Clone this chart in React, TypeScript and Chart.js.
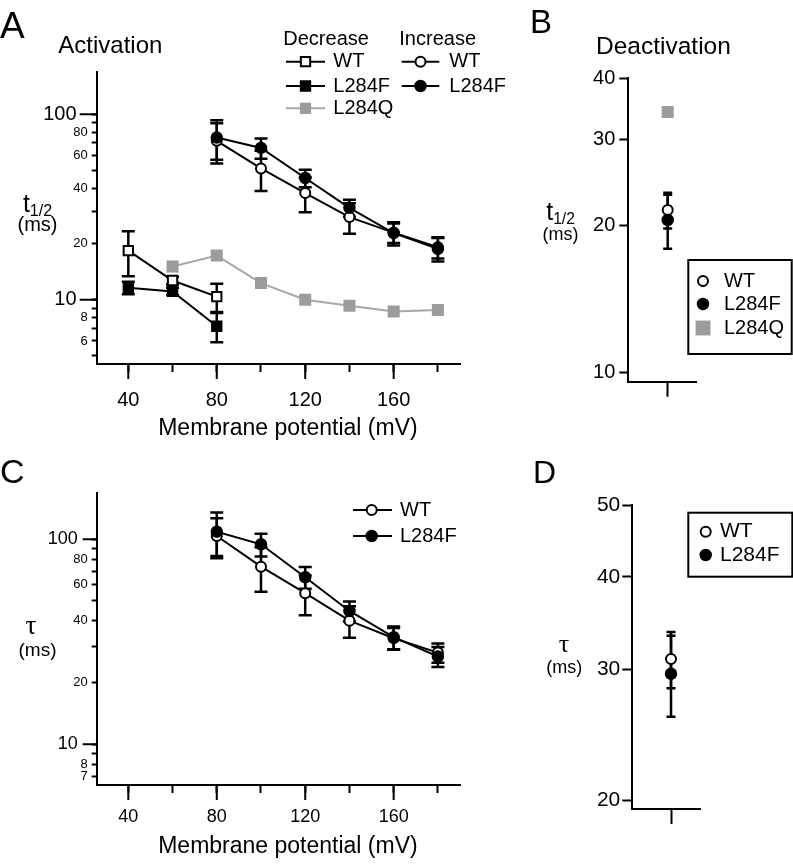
import React, { useEffect, useRef } from 'react';
import { Chart, registerables } from 'chart.js';
import type { ChartConfiguration, Plugin } from 'chart.js';
import { drawPoint } from 'chart.js/helpers';

Chart.register(...registerables);

const FONT = '"Liberation Sans", Arial, Helvetica, sans-serif';
const SERIF = '"Liberation Serif", "DejaVu Serif", serif';
const GRAY = '#9c9c9c';

Chart.defaults.font.family = FONT;
Chart.defaults.color = '#000';

// Panel A - activation t1/2 (ms) vs membrane potential (mV)
const decVolts = [40, 60, 80];
const decWT = [18.4, 12.7, 10.4];
const decWTErr = [5.0, 0.6, 1.8];
const decL284F = [11.6, 11.1, 7.2];
const decL284FErr = [0.9, 0.5, 1.3];
const decQVolts = [60, 80, 100, 120, 140, 160, 180];
const decL284Q = [15.1, 17.3, 12.3, 10.0, 9.3, 8.65, 8.8];
const incVolts = [80, 100, 120, 140, 160, 180];
const incWT = [71.8, 51, 37.6, 27.9, 23.0, 19.2];
const incWTErr = [17.5, 12.5, 8, 5.2, 2.8, 2.5];
const incL284F = [74.8, 65.8, 45.3, 31.3, 22.9, 18.8];
const incL284FErr = [18, 8.2, 4.9, 3.3, 3.3, 2.7];

const voltTicks = [40, 60, 80, 100, 120, 140, 160, 180];
const voltLabels = [40, 80, 120, 160];
const actTicks = [5, 6, 7, 8, 9, 10, 20, 30, 40, 50, 60, 70, 80, 90, 100];
const actLabels = [6, 8, 10, 20, 40, 60, 80, 100];
const decades = [10, 100];

// Panel B - deactivation t1/2
const groupX = [0];
const deactWT = [21.5];
const deactWTErr = [1.8];
const deactL284F = [20.5];
const deactL284FErr = [2.6];
const deactL284Q = [34.1];
const deactTicks = [10, 20, 30, 40];

// Panel C - activation tau
const tauVolts = [80, 100, 120, 140, 160, 180];
const tauWT = [103.8, 73.5, 54.6, 40.1, 32.9, 28.0];
const tauWTErr = [23, 18, 12, 7, 4, 3];
const tauL284F = [108.9, 94.5, 65.3, 44.7, 33.3, 26.8];
const tauL284FErr = [26, 12, 8, 5, 4.2, 3];
const tauTicks = [7, 8, 9, 10, 20, 30, 40, 50, 60, 70, 80, 90, 100];
const tauLabels = [7, 8, 10, 20, 40, 60, 80, 100];

// Panel D - deactivation tau
const deactTauWT = [31.0];
const deactTauWTErr = [2.7];
const deactTauL284F = [29.6];
const deactTauL284FErr = [3.7];
const deactTauTicks = [20, 30, 40, 50];

const pts = (xs: number[], ys: number[]) => xs.map((x, i) => ({ x, y: ys[i] }));

const blackLine = { borderColor: '#000', borderWidth: 2, tension: 0, fill: false };
const grayLine = { borderColor: '#a8a8a8', borderWidth: 2, tension: 0, fill: false };
const noLine = { showLine: false, borderColor: '#000', borderWidth: 0 };
const openCircle = { pointStyle: 'circle', pointRadius: 5, pointBackgroundColor: '#fff', pointBorderColor: '#000', pointBorderWidth: 2 };
const filledCircle = { pointStyle: 'circle', pointRadius: 5.5, pointBackgroundColor: '#000', pointBorderColor: '#000', pointBorderWidth: 1.5 };
const openSquare = { pointStyle: 'rect', pointRadius: 6.6, pointBackgroundColor: '#fff', pointBorderColor: '#000', pointBorderWidth: 2 };
const filledSquare = { pointStyle: 'rect', pointRadius: 6.6, pointBackgroundColor: '#000', pointBorderColor: '#000', pointBorderWidth: 2 };
const graySquare = { pointStyle: 'rect', pointRadius: 8.5, pointBackgroundColor: GRAY, pointBorderColor: GRAY, pointBorderWidth: 0 };

// vertical SEM bars, drawn under the lines and markers
const errorBars: Plugin = {
  id: 'errorBars',
  beforeDatasetsDraw(chart, _args, opts: any) {
    const { ctx } = chart;
    const y = chart.scales.y;
    chart.data.datasets.forEach((ds: any, i) => {
      if (!ds.errors) return;
      const meta = chart.getDatasetMeta(i);
      ctx.save();
      ctx.strokeStyle = '#000';
      ctx.lineWidth = opts.width;
      meta.data.forEach((el: any, j) => {
        const e = ds.errors[j];
        if (!e) return;
        const v = ds.data[j].y;
        const top = y.getPixelForValue(v + e);
        const bot = y.getPixelForValue(v - e);
        ctx.beginPath();
        ctx.moveTo(el.x, top);
        ctx.lineTo(el.x, bot);
        ctx.moveTo(el.x - opts.cap, top);
        ctx.lineTo(el.x + opts.cap, top);
        ctx.moveTo(el.x - opts.cap, bot);
        ctx.lineTo(el.x + opts.cap, bot);
        ctx.stroke();
      });
      ctx.restore();
    });
  },
};

// longer tick marks for the labelled decades / voltages
const longTicks: Plugin = {
  id: 'longTicks',
  afterDraw(chart, _args, o: any) {
    const { ctx, chartArea } = chart;
    ctx.save();
    ctx.strokeStyle = '#000';
    ctx.lineWidth = 2;
    ctx.beginPath();
    (o.y || []).forEach((v: number) => {
      const p = chart.scales.y.getPixelForValue(v);
      ctx.moveTo(chartArea.left - o.yLen, p);
      ctx.lineTo(chartArea.left, p);
    });
    (o.x || []).forEach((v: number) => {
      const p = chart.scales.x.getPixelForValue(v);
      ctx.moveTo(p, chartArea.bottom);
      ctx.lineTo(p, chartArea.bottom + o.xLen);
    });
    ctx.stroke();
    ctx.restore();
  },
};

const overlay = (draw: (chart: Chart) => void): Plugin => ({
  id: 'overlay',
  afterDraw(chart) {
    chart.ctx.save();
    chart.ctx.fillStyle = '#000';
    draw(chart);
    chart.ctx.restore();
  },
});

function txt(ctx: CanvasRenderingContext2D, s: string, x: number, y: number, size: number,
  align: CanvasTextAlign = 'left', baseline: CanvasTextBaseline = 'alphabetic', family = FONT) {
  ctx.font = `${size}px ${family}`;
  ctx.textAlign = align;
  ctx.textBaseline = baseline;
  ctx.fillStyle = '#000';
  ctx.fillText(s, x, y);
}

function legendRow(chart: Chart, idx: number, y: number, mx: number, tx: number, size: number,
  x1?: number, x2?: number, radius?: number) {
  const ds: any = chart.data.datasets[idx];
  const ctx = chart.ctx;
  if (x1 !== undefined && x2 !== undefined) {
    ctx.strokeStyle = ds.borderColor;
    ctx.lineWidth = ds.borderWidth;
    ctx.beginPath();
    ctx.moveTo(x1, y);
    ctx.lineTo(x2, y);
    ctx.stroke();
  }
  ctx.fillStyle = ds.pointBackgroundColor;
  ctx.strokeStyle = ds.pointBorderColor;
  ctx.lineWidth = ds.pointBorderWidth;
  drawPoint(ctx, { pointStyle: ds.pointStyle, radius: radius ?? ds.pointRadius, rotation: 0, borderWidth: ds.pointBorderWidth } as any, mx, y);
  txt(ctx, ds.label, tx, y, size, 'left', 'middle');
}

function tHalf(ctx: CanvasRenderingContext2D, cx: number, tBase: number, tSize: number,
  subBase: number, subSize: number, msBase: number, msSize: number) {
  ctx.font = `${tSize}px ${FONT}`;
  const tw = ctx.measureText('t').width;
  ctx.font = `${subSize}px ${FONT}`;
  const sw = ctx.measureText('1/2').width;
  const x0 = cx - (tw + sw) / 2;
  txt(ctx, 't', x0, tBase, tSize);
  txt(ctx, '1/2', x0 + tw, subBase, subSize);
  txt(ctx, '(ms)', cx, msBase, msSize, 'center');
}

function tau(ctx: CanvasRenderingContext2D, cx: number, base: number, size: number,
  msx: number, msBase: number, msSize: number) {
  txt(ctx, '\u03C4', cx, base, size, 'center', 'alphabetic', SERIF);
  txt(ctx, '(ms)', msx, msBase, msSize, 'center');
}

const voltAxis = (height: number, pad: number, size: number, titlePad: number) => ({
  type: 'linear',
  min: 25.7,
  max: 190,
  afterBuildTicks: (s: any) => { s.ticks = voltTicks.map((value) => ({ value })); },
  afterFit: (s: any) => { s.height = height; },
  border: { color: '#000', width: 2 },
  grid: { drawOnChartArea: false, tickLength: 8, tickWidth: 2, tickColor: '#000' },
  ticks: {
    autoSkip: false, maxRotation: 0, padding: pad, color: '#000',
    font: { family: FONT, size },
    callback: (v: any) => (voltLabels.includes(v) ? String(v) : ''),
  },
  title: {
    display: true, text: '   Membrane potential (mV)', color: '#000',
    font: { family: FONT, size: 23 }, padding: { top: 0, bottom: titlePad },
  },
});

const logAxis = (o: any) => ({
  type: 'logarithmic',
  min: o.min,
  max: o.max,
  afterBuildTicks: (s: any) => { s.ticks = o.ticks.map((value: number) => ({ value })); },
  afterFit: (s: any) => { s.width = o.width; },
  border: { color: '#000', width: 2 },
  grid: { drawOnChartArea: false, tickLength: o.tickLen, tickWidth: 2, tickColor: '#000' },
  ticks: {
    autoSkip: false, padding: o.pad, color: '#000',
    font: (c: any) => ({ family: FONT, size: c.tick && o.big.includes(c.tick.value) ? o.bigSize : o.smallSize }),
    callback: (v: any) => (o.labels.includes(v) ? String(v) + (o.big.includes(v) ? o.trail : '') : ''),
  },
});

const groupAxis = (max: number, height: number) => ({
  type: 'linear',
  min: -1,
  max,
  afterBuildTicks: (s: any) => { s.ticks = groupX.map((value) => ({ value })); },
  afterFit: (s: any) => { s.height = height; },
  border: { color: '#000', width: 2 },
  grid: { drawOnChartArea: false, tickLength: 15, tickWidth: 2, tickColor: '#000' },
  ticks: { autoSkip: false, maxRotation: 0, callback: () => '' },
});

const baseOptions = {
  responsive: false,
  animation: false,
  events: [],
};

const configA = (): ChartConfiguration => ({
  type: 'line',
  data: {
    datasets: [
      { label: 'L284F', data: pts(incVolts, incL284F), errors: incL284FErr, ...blackLine, ...filledCircle },
      { label: 'WT', data: pts(incVolts, incWT), errors: incWTErr, ...blackLine, ...openCircle },
      { label: 'L284F', data: pts(decVolts, decL284F), errors: decL284FErr, ...blackLine, ...filledSquare },
      { label: 'WT', data: pts(decVolts, decWT), errors: decWTErr, ...blackLine, ...openSquare },
      { label: 'L284Q', data: pts(decQVolts, decL284Q), ...grayLine, ...graySquare },
    ] as any,
  },
  options: {
    ...baseOptions,
    layout: { padding: { top: 72, right: 60, left: 0, bottom: 0 } },
    scales: {
      x: voltAxis(445 - 364, 16.8, 20, 2.9),
      y: logAxis({ min: 4.51, max: 168.7, ticks: actTicks, labels: actLabels, big: decades, bigSize: 20, smallSize: 13, trail: '  ', width: 96.7, tickLen: 5, pad: 4 }),
    } as any,
    plugins: {
      legend: { display: false },
      tooltip: { enabled: false },
      errorBars: { cap: 6.5, width: 2.5 },
      longTicks: { y: decades, yLen: 17, x: voltLabels, xLen: 15 },
    } as any,
  } as any,
  plugins: [errorBars, longTicks, overlay((chart) => {
    const ctx = chart.ctx;
    txt(ctx, 'A', 0, 38.3, 37);
    txt(ctx, 'Activation', 58.3, 53.3, 24);
    txt(ctx, 'Decrease', 283.3, 45, 20);
    txt(ctx, 'Increase', 399.3, 45, 20);
    legendRow(chart, 3, 61.7, 305.5, 333.3, 20, 286, 325);
    legendRow(chart, 2, 86, 305.5, 333.3, 20, 286, 325);
    legendRow(chart, 4, 108.3, 305.5, 333.3, 20, 286, 325, 8);
    legendRow(chart, 1, 61.7, 420.5, 449.3, 20, 401.7, 439.3);
    legendRow(chart, 0, 86, 420.5, 449.3, 20, 401.7, 439.3);
    tHalf(ctx, 37.5, 211.7, 25, 215.5, 16, 230.8, 20);
  })],
});

const configB = (): ChartConfiguration => ({
  type: 'line',
  data: {
    datasets: [
      { label: 'L284F', data: pts(groupX, deactL284F), errors: deactL284FErr, ...noLine, ...filledCircle },
      { label: 'WT', data: pts(groupX, deactWT), errors: deactWTErr, ...noLine, ...openCircle },
      { label: 'L284Q', data: pts(groupX, deactL284Q), ...noLine, ...graySquare },
    ] as any,
  },
  options: {
    ...baseOptions,
    layout: { padding: { top: 78, right: 96.3, left: 0, bottom: 0 } },
    scales: {
      x: groupAxis(0.736, 430 - 381.7),
      y: logAxis({ min: 9.58, max: 40, ticks: deactTicks, labels: deactTicks, big: deactTicks, bigSize: 20, smallSize: 20, trail: '', width: 108.3, tickLen: 9, pad: 4 }),
    } as any,
    plugins: {
      legend: { display: false },
      tooltip: { enabled: false },
      errorBars: { cap: 4.5, width: 2.5 },
    } as any,
  } as any,
  plugins: [errorBars, overlay((chart) => {
    const ctx = chart.ctx;
    txt(ctx, 'B', 10, 33.3, 33);
    txt(ctx, 'Deactivation', 76, 54, 24.5);
    ctx.strokeStyle = '#000';
    ctx.lineWidth = 2;
    ctx.strokeRect(168.3, 260, 103.4, 94);
    legendRow(chart, 1, 281, 183, 204, 20);
    legendRow(chart, 0, 304, 183, 204, 20);
    legendRow(chart, 2, 328, 183, 204, 20, undefined, undefined, 10.5);
    tHalf(ctx, 40.5, 220, 25, 224, 15.6, 239.5, 18);
  })],
});

const configC = (): ChartConfiguration => ({
  type: 'line',
  data: {
    datasets: [
      { label: 'L284F', data: pts(tauVolts, tauL284F), errors: tauL284FErr, ...blackLine, ...filledCircle },
      { label: 'WT', data: pts(tauVolts, tauWT), errors: tauWTErr, ...blackLine, ...openCircle },
    ] as any,
  },
  options: {
    ...baseOptions,
    layout: { padding: { top: 48.3, right: 60, left: 0, bottom: 0 } },
    scales: {
      x: voltAxis(419 - 340, 13.7, 18, 3.5),
      y: logAxis({ min: 6.33, max: 167.6, ticks: tauTicks, labels: tauLabels, big: decades, bigSize: 18, smallSize: 13, trail: '  ', width: 96.7, tickLen: 5, pad: 4 }),
    } as any,
    plugins: {
      legend: { display: false },
      tooltip: { enabled: false },
      errorBars: { cap: 6.5, width: 2.5 },
      longTicks: { y: decades, yLen: 14, x: voltLabels, xLen: 15 },
    } as any,
  } as any,
  plugins: [errorBars, longTicks, overlay((chart) => {
    const ctx = chart.ctx;
    txt(ctx, 'C', 0, 37.7, 34);
    legendRow(chart, 1, 65, 371.7, 400, 20, 353, 392);
    legendRow(chart, 0, 91, 371.7, 400, 20, 353, 392);
    tau(ctx, 31, 189, 27, 37.5, 211, 19);
  })],
});

const configD = (): ChartConfiguration => ({
  type: 'line',
  data: {
    datasets: [
      { label: 'L284F', data: pts(groupX, deactTauL284F), errors: deactTauL284FErr, ...noLine, ...filledCircle },
      { label: 'WT', data: pts(groupX, deactTauWT), errors: deactTauWTErr, ...noLine, ...openCircle },
    ] as any,
  },
  options: {
    ...baseOptions,
    layout: { padding: { top: 75, right: 93, left: 0, bottom: 0 } },
    scales: {
      x: groupAxis(0.749, 434 - 379),
      y: logAxis({ min: 19.45, max: 50, ticks: deactTauTicks, labels: deactTauTicks, big: deactTauTicks, bigSize: 21, smallSize: 21, trail: '', width: 112.3, tickLen: 10, pad: 2 }),
    } as any,
    plugins: {
      legend: { display: false },
      tooltip: { enabled: false },
      errorBars: { cap: 4.5, width: 2.5 },
    } as any,
  } as any,
  plugins: [errorBars, overlay((chart) => {
    const ctx = chart.ctx;
    txt(ctx, 'D', 13, 52.7, 32);
    ctx.strokeStyle = '#000';
    ctx.lineWidth = 2;
    ctx.strokeRect(168.3, 82.7, 104, 64);
    legendRow(chart, 1, 101.7, 185.7, 200, 21);
    legendRow(chart, 0, 125, 185.7, 200, 21);
    tau(ctx, 44, 222, 26, 44.3, 243, 18);
  })],
});

const Panel: React.FC<{ left: number; top: number; width: number; height: number; config: () => ChartConfiguration }> = ({ left, top, width, height, config }) => {
  const canvasRef = useRef<HTMLCanvasElement>(null);

  useEffect(() => {
    if (!canvasRef.current) return;
    const chart = new Chart(canvasRef.current, config());
    return () => {
      chart.destroy();
    };
  }, [config]);

  return (
    <canvas
      ref={canvasRef}
      width={width}
      height={height}
      style={{ position: 'absolute', left, top, width, height }}
    />
  );
};

const App: React.FC = () => (
  <div style={{ position: 'absolute', left: 0, top: 0, width: 793, height: 864, background: '#fff', overflow: 'hidden' }}>
    <Panel left={0} top={0} width={520} height={445} config={configA} />
    <Panel left={520} top={0} width={273} height={430} config={configB} />
    <Panel left={0} top={445} width={520} height={419} config={configC} />
    <Panel left={520} top={430} width={273} height={434} config={configD} />
  </div>
);

export default App;
